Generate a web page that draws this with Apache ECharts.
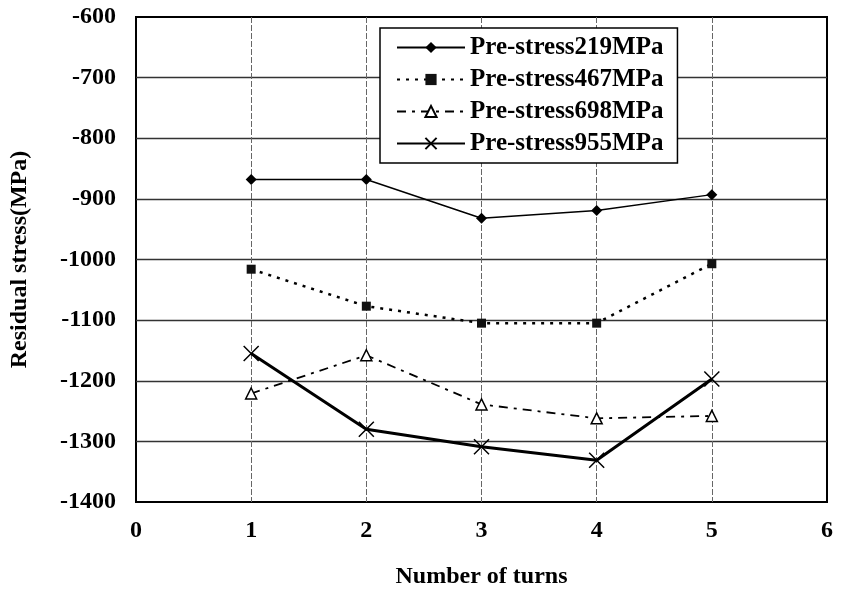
<!DOCTYPE html>
<html>
<head>
<meta charset="utf-8">
<script src="https://cdn.jsdelivr.net/npm/echarts@6/dist/echarts.min.js"></script>
<style>
  html, body { margin: 0; padding: 0; background: #fff; }
  #container { width: 849px; height: 594px; }
</style>
</head>
<body>
<div id="container"></div>
<script>
var turns = [1, 2, 3, 4, 5];
var seriesNames = ['Pre-stress219MPa', 'Pre-stress467MPa', 'Pre-stress698MPa', 'Pre-stress955MPa'];
var s219 = [-868, -868, -932, -919, -893];
var s467 = [-1016, -1077, -1105, -1105, -1007];
var s698 = [-1221, -1158, -1239, -1262, -1258];
var s955 = [-1155, -1280, -1309, -1331, -1197];

function pairs(arr) {
    var out = [];
    for (var i = 0; i < turns.length; i++) {
        out.push([turns[i], arr[i]]);
    }
    return out;
}

var font = 'Liberation Serif';
var dom = document.getElementById('container');
var myChart = echarts.init(dom);
var option = {
    animation: false,
    backgroundColor: '#fff',
    grid: {
        left: 134,
        right: 22,
        top: 17,
        bottom: 91,
        show: true,
        borderColor: '#000',
        borderWidth: 2
    },
    legend: {
        left: 380,
        top: 28,
        orient: 'vertical',
        itemWidth: 68,
        itemHeight: 14,
        itemGap: 7,
        padding: [7, 14, 7, 16],
        backgroundColor: '#fff',
        borderColor: '#000',
        borderWidth: 1.5,
        textStyle: { fontFamily: font, fontWeight: 'bold', fontSize: 25, color: '#000' },
        data: seriesNames
    },
    xAxis: {
        type: 'value',
        min: 0,
        max: 6,
        interval: 1,
        name: 'Number of turns',
        nameLocation: 'middle',
        nameGap: 63,
        nameTextStyle: { fontFamily: font, fontWeight: 'bold', fontSize: 24, color: '#000' },
        axisLine: { show: false },
        axisTick: { show: false },
        axisLabel: { fontFamily: font, fontWeight: 'bold', fontSize: 24, color: '#000', margin: 17 },
        splitLine: { show: true, showMinLine: false, showMaxLine: false, lineStyle: { color: '#666', width: 1, type: [6, 2] } }
    },
    yAxis: {
        type: 'value',
        min: -1400,
        max: -600,
        interval: 100,
        name: 'Residual stress(MPa)',
        nameLocation: 'middle',
        nameGap: 104,
        nameTextStyle: { fontFamily: font, fontWeight: 'bold', fontSize: 24, color: '#000' },
        axisLine: { show: false },
        axisTick: { show: false },
        axisLabel: {
            fontFamily: font, fontWeight: 'bold', fontSize: 24, color: '#000', margin: 20,
            formatter: function (v) { return String(v); }
        },
        splitLine: { show: true, showMinLine: false, showMaxLine: false, lineStyle: { color: '#333', width: 1.3 } }
    },
    series: [
        {
            name: seriesNames[0],
            type: 'line',
            data: pairs(s219),
            symbol: 'diamond',
            symbolSize: 11,
            itemStyle: { color: '#000' },
            lineStyle: { color: '#000', width: 1.5 }
        },
        {
            name: seriesNames[1],
            type: 'line',
            data: pairs(s467),
            symbol: 'rect',
            symbolSize: 9,
            itemStyle: { color: '#111' },
            lineStyle: { color: '#000', width: 2.5, type: [3, 6] }
        },
        {
            name: seriesNames[2],
            type: 'line',
            data: pairs(s698),
            symbol: 'triangle',
            symbolSize: 11,
            itemStyle: { color: '#fff', borderColor: '#000', borderWidth: 1.5 },
            lineStyle: { color: '#000', width: 1.8, type: [9, 6, 3, 6] }
        },
        {
            name: seriesNames[3],
            type: 'line',
            data: pairs(s955),
            symbol: 'path://M0,0L10,10M10,0L0,10',
            symbolSize: 15,
            itemStyle: { color: 'none', borderColor: '#000', borderWidth: 1.5 },
            lineStyle: { color: '#000', width: 3 }
        }
    ]
};
if (option && typeof option === "object") {
    myChart.setOption(option, true);
}
</script>
</body>
</html>
